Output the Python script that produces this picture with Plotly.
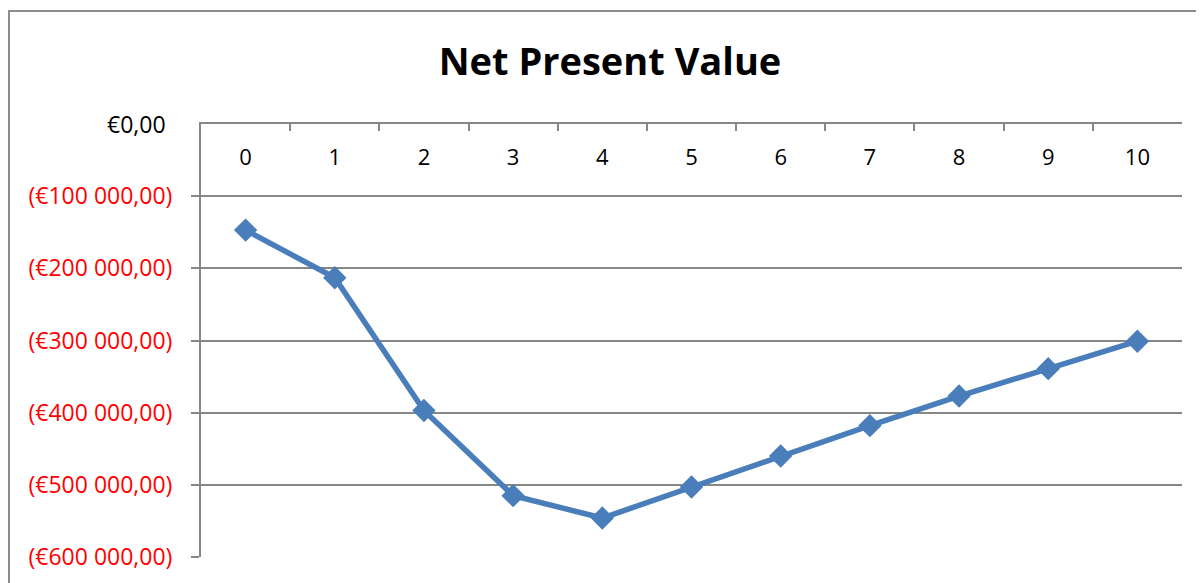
import plotly.graph_objects as go

periods = ["0", "1", "2", "3", "4", "5", "6", "7", "8", "9", "10"]
npv = [-147000, -213000, -397000, -515000, -546000, -503000, -460000, -418000, -377000, -339000, -301000]
y_tick_vals = [0, -100000, -200000, -300000, -400000, -500000, -600000]
y_tick_text = ["", "(€100 000,00)", "(€200 000,00)",
               "(€300 000,00)", "(€400 000,00)", "(€500 000,00)", "(€600 000,00)"]
zero_label = "€0,00"

FONT = "Open Sans"
GRID = "#878787"
W, H = 1196, 575  # page body has an 8px margin

fig = go.Figure()
fig.add_trace(go.Scatter(
    x=periods, y=npv, mode="lines+markers",
    line=dict(color="#4A7EBB", width=5.5),
    marker=dict(symbol="diamond", size=18, color="#4A7EBB"),
    cliponaxis=False,
))

fig.update_layout(
    width=W, height=H,
    margin=dict(l=193, r=22, t=116, b=26),
    paper_bgcolor="white", plot_bgcolor="white",
    showlegend=False,
    title=dict(text="<b>Net Present Value</b>", x=602 / W, xanchor="center",
               y=1 - 54 / H, yanchor="middle", yref="container",
               font=dict(family=FONT, size=38, color="black")),
    xaxis=dict(type="category", range=[-0.5, 10.5], side="top",
               showline=True, linecolor=GRID, linewidth=2,
               ticks="inside", ticklen=7, tickwidth=2, tickcolor=GRID,
               tickson="boundaries", ticklabelposition="inside",
               ticklabelstandoff=20,
               showgrid=False, zeroline=False,
               tickfont=dict(family=FONT, size=22, color="black")),
    yaxis=dict(range=[-600000, 0], tickvals=y_tick_vals, ticktext=y_tick_text,
               showline=True, linecolor=GRID, linewidth=2,
               ticks="outside", ticklen=8, tickwidth=2, tickcolor=GRID,
               showgrid=True, gridcolor=GRID, gridwidth=2, zeroline=False,
               ticklabelstandoff=14,
               tickfont=dict(family=FONT, size=23, color="red")),
    annotations=[dict(text=zero_label, xref="paper", yref="y", x=0, y=y_tick_vals[0],
                      xanchor="right", yanchor="middle", xshift=-33, showarrow=False,
                      font=dict(family=FONT, size=23, color="black"))],
    shapes=[dict(type="rect", xref="paper", yref="paper",
                 x0=(9 - 201) / 981, x1=1.2, y0=-0.3, y1=(557 - 11) / 433,
                 line=dict(color="#8C8C8C", width=2), fillcolor="rgba(0,0,0,0)",
                 layer="below")],
)

fig.write_html("out.html")
